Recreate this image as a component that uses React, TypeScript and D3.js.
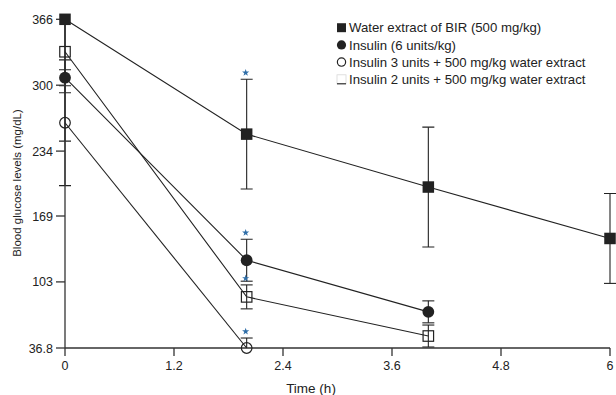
import React from "react";
import * as d3 from "d3";

const seriesNames = [
  "Water extract of BIR (500 mg/kg)",
  "Insulin (6 units/kg)",
  "Insulin 3 units + 500 mg/kg water extract",
  "Insulin 2 units + 500 mg/kg water extract",
];
const seriesSymbols = ["square-filled", "circle-filled", "circle-open", "square-open"];

const waterTimes = [0, 2, 4, 6];
const waterValues = [366, 251, 198, 146.5];
const waterErrors = [122, 55, 60, 45];
const waterStars = [false, true, false, false];

const insulinTimes = [0, 2, 4];
const insulinValues = [307.5, 124.7, 73];
const insulinErrors = [8, 21, 11];
const insulinStars = [false, true, false];

const ins3Times = [0, 2];
const ins3Values = [262.4, 36.8];
const ins3Errors = [63, 10];
const ins3Stars = [false, true];

const ins2Times = [0, 2, 4];
const ins2Values = [333.5, 88, 48.8];
const ins2Errors = [41, 12, 11];
const ins2Stars = [false, true, false];

const xTicks = [0, 1.2, 2.4, 3.6, 4.8, 6];
const xTickLabels = ["0", "1.2", "2.4", "3.6", "4.8", "6"];
const yTicks = [36.8, 103, 169, 234, 300, 366];
const yTickLabels = ["36.8", "103", "169", "234", "300", "366"];

const xTitle = "Time (h)";
const yTitle = "Blood glucose levels (mg/dL)";

const W = 616;
const H = 395;
const FONT = "'Liberation Sans', Arial, Helvetica, sans-serif";
const INK = "#222";
const STAR = "#2f6ea8";

export default function App() {
  const x = d3.scaleLinear().domain([0, 6]).range([65, 610]);
  const y = d3.scaleLinear().domain([36.8, 366]).range([348, 19.3]);

  const series = [
    { t: waterTimes, v: waterValues, e: waterErrors, s: waterStars, sym: seriesSymbols[0] },
    { t: insulinTimes, v: insulinValues, e: insulinErrors, s: insulinStars, sym: seriesSymbols[1] },
    { t: ins3Times, v: ins3Values, e: ins3Errors, s: ins3Stars, sym: seriesSymbols[2] },
    { t: ins2Times, v: ins2Values, e: ins2Errors, s: ins2Stars, sym: seriesSymbols[3] },
  ];

  const starPath = d3.symbol().type(d3.symbolStar).size(16)() as string;

  const marker = (sym: string, cx: number, cy: number, key: string, scale = 1) => {
    if (sym === "square-filled") {
      const s = 11.5 * scale;
      return <rect key={key} x={cx - s / 2} y={cy - s / 2} width={s} height={s} fill={INK} />;
    }
    if (sym === "circle-filled") {
      return <circle key={key} cx={cx} cy={cy} r={5.9 * scale} fill={INK} />;
    }
    if (sym === "circle-open") {
      return <circle key={key} cx={cx} cy={cy} r={5.3 * scale} fill="none" stroke={INK} strokeWidth={1.2} />;
    }
    const s = 10.5 * scale;
    return <rect key={key} x={cx - s / 2} y={cy - s / 2} width={s} height={s} fill="none" stroke={INK} strokeWidth={1.2} />;
  };

  const [y0, y1] = y.range();

  return (
    <svg width={W} height={H} style={{ position: "absolute", left: 0, top: 0 }} fontFamily={FONT}>
      <defs>
        <clipPath id="plotClip">
          <rect x={0} y={y1} width={W} height={y0 - y1} />
        </clipPath>
      </defs>

      {/* error bars */}
      <g clipPath="url(#plotClip)" stroke={INK} strokeWidth={1.1}>
        {series.map((sr, si) =>
          sr.t.map((t, i) => {
            const cx = x(t);
            const top = y(sr.v[i] + sr.e[i]);
            const bot = y(sr.v[i] - sr.e[i]);
            return (
              <g key={`e${si}-${i}`}>
                <line x1={cx} x2={cx} y1={top} y2={bot} />
                <line x1={cx - 6} x2={cx + 6} y1={top} y2={top} />
                <line x1={cx - 6} x2={cx + 6} y1={bot} y2={bot} />
              </g>
            );
          })
        )}
      </g>

      {/* axes */}
      <g stroke="#333" strokeWidth={1.3}>
        <line x1={x(0)} x2={x(6)} y1={y0} y2={y0} />
        <line x1={x(0)} x2={x(0)} y1={y0} y2={y1} />
        {xTicks.map((t) => (
          <line key={`xt${t}`} x1={x(t)} x2={x(t)} y1={y0} y2={y0 + 8} />
        ))}
        {yTicks.map((t) => (
          <line key={`yt${t}`} x1={x(0) - 9} x2={x(0)} y1={y(t)} y2={y(t)} />
        ))}
      </g>
      <g fontSize={12.5} fill={INK}>
        {xTicks.map((t, i) => (
          <text key={`xl${t}`} x={x(t)} y={370} textAnchor="middle">
            {xTickLabels[i]}
          </text>
        ))}
        {yTicks.map((t, i) => (
          <text key={`yl${t}`} x={53} y={y(t) + 4.5} textAnchor="end">
            {yTickLabels[i]}
          </text>
        ))}
      </g>
      <text x={311} y={393} fontSize={13.5} fill={INK} textAnchor="middle">
        {xTitle}
      </text>
      <text
        transform={`translate(21, ${183}) rotate(-90)`}
        fontSize={11.5}
        fill={INK}
        textAnchor="middle"
      >
        {yTitle}
      </text>

      {/* lines */}
      <g fill="none" stroke={INK} strokeWidth={1.1}>
        {series.map((sr, si) => {
          const path = d3
            .line<number>()
            .x((_, i) => x(sr.t[i]))
            .y((v) => y(v))(sr.v);
          return <path key={`l${si}`} d={path as string} />;
        })}
      </g>

      {/* markers */}
      {series.map((sr, si) => sr.t.map((t, i) => marker(sr.sym, x(t), y(sr.v[i]), `m${si}-${i}`)))}

      {/* significance stars */}
      {series.map((sr, si) =>
        sr.t.map((t, i) =>
          sr.s[i] ? (
            <path
              key={`s${si}-${i}`}
              d={starPath}
              transform={`translate(${x(t) - 1}, ${y(sr.v[i] + sr.e[i]) - 6.5})`}
              fill={STAR}
            />
          ) : null
        )
      )}

      {/* legend */}
      <g fontSize={13.2} fill={INK}>
        {seriesNames.map((name, i) => {
          const cy = 27.7 + i * 17.2;
          let m;
          if (seriesSymbols[i] === "square-open") {
            m = (
              <g key={`lm${i}`}>
                <rect x={337} y={cy - 4.5} width={9} height={9} fill="none" stroke="#d8d8d8" strokeWidth={0.8} />
                <line x1={337} x2={346} y1={cy + 4.5} y2={cy + 4.5} stroke={INK} strokeWidth={1.1} />
              </g>
            );
          } else {
            m = marker(seriesSymbols[i], 341.5, cy, `lm${i}`, 0.78);
          }
          return (
            <g key={`lg${i}`}>
              {m}
              <text x={349} y={cy + 4.6}>
                {name}
              </text>
            </g>
          );
        })}
      </g>
    </svg>
  );
}
